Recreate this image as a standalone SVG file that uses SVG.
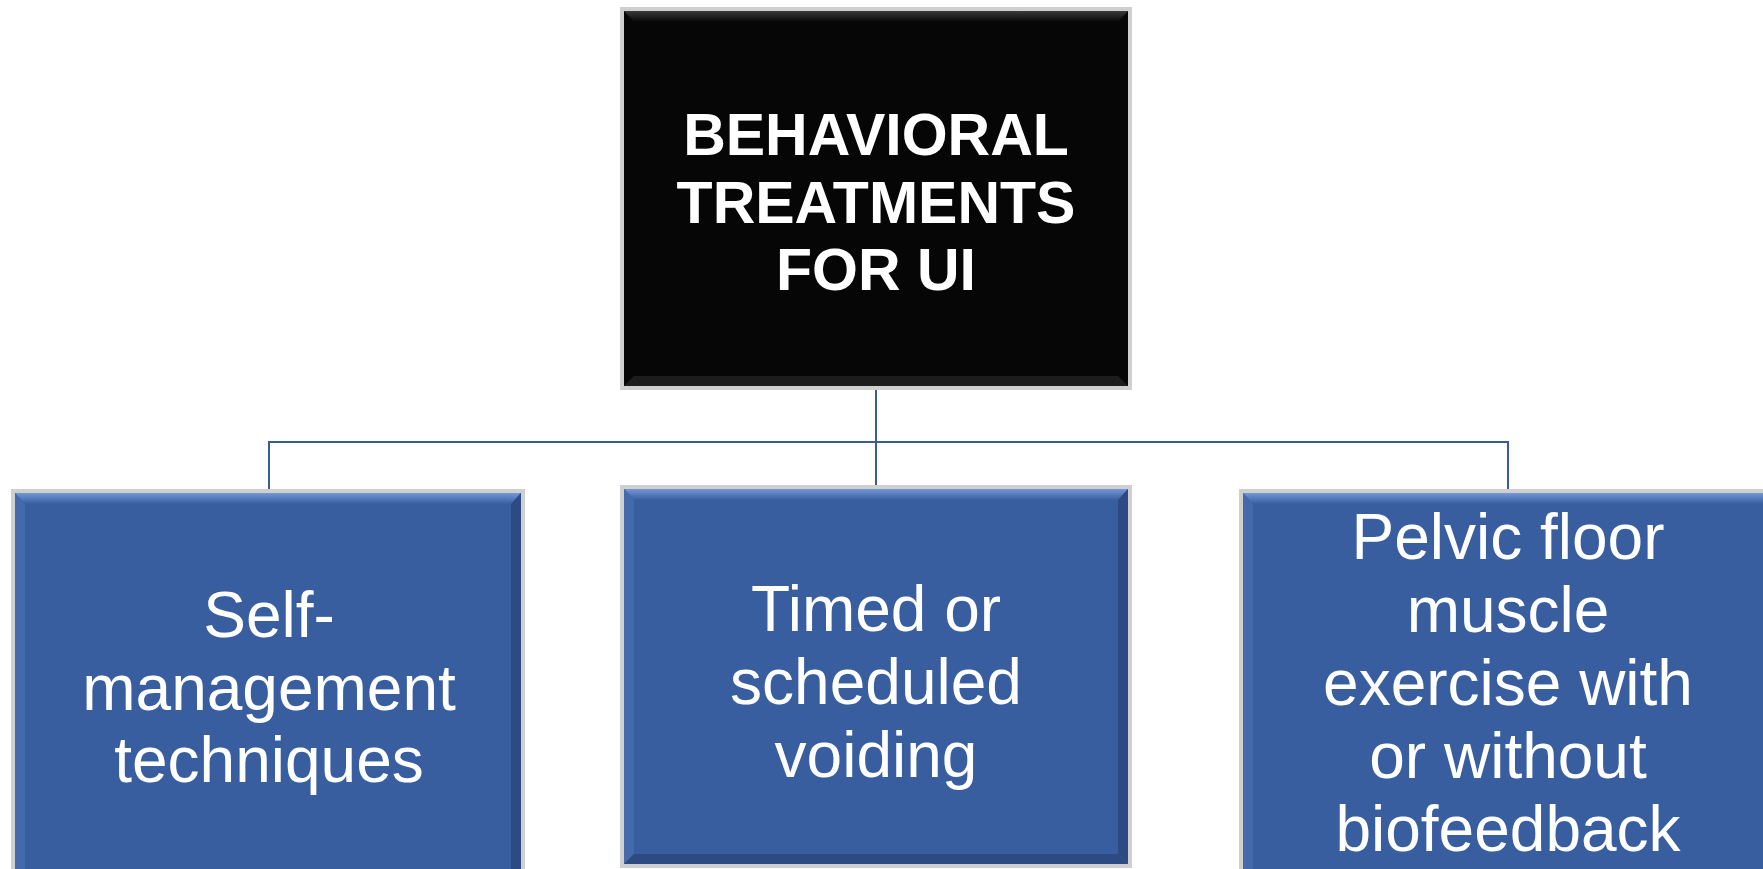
<svg xmlns="http://www.w3.org/2000/svg" width="1763" height="869" viewBox="0 0 1763 869">
<defs>
<linearGradient id="topBlue" x1="0" y1="0" x2="0" y2="1"><stop offset="0" stop-color="#7397D6"/><stop offset="1" stop-color="#3A5FA1"/></linearGradient>
<linearGradient id="topBlack" x1="0" y1="0" x2="0" y2="1"><stop offset="0" stop-color="#3a3a3a"/><stop offset="1" stop-color="#060606"/></linearGradient>
<style>
.frame{stroke:#cfcfcf;stroke-width:4}
.blue{fill:#385EA0}
.black{fill:#060606}
.rb{fill:#2D4B82}
.lb{fill:#4669AA}
.bb{fill:#1c1c1c}
.conn{fill:none;stroke:#3A5A9C;stroke-width:2}
.t1{font-family:"Liberation Sans",Arial,sans-serif;font-weight:bold;font-size:59px;fill:#fff;text-anchor:middle}
.t2{font-family:"Liberation Sans",Arial,sans-serif;font-size:64px;fill:#fff;text-anchor:middle}
</style>
</defs>
<rect width="1763" height="869" fill="#fff"/>
<g id="connectors">
<path class="conn" d="M876 388 V487"/>
<path class="conn" d="M269 491 V442 H1508 V491"/>
</g>
<g id="root">
<rect class="frame black" x="622" y="9" width="508" height="379"/>
<polygon fill="url(#topBlack)" points="624,11 1128,11 1118,22 634,22"/>
<polygon class="bb" points="624,386 1128,386 1118,376 634,376"/>
<text class="t1" x="876" y="155">BEHAVIORAL</text>
<text class="t1" x="876" y="223">TREATMENTS</text>
<text class="t1" x="876" y="290">FOR UI</text>
</g>
<g id="self-management">
<rect class="frame blue" x="13" y="491" width="510" height="390"/>
<polygon fill="url(#topBlue)" points="15,493 521,493 511,504 25,504"/>
<polygon class="rb" points="521,493 521,881 511,881 511,504"/>
<polygon class="lb" points="15,493 25,504 25,881 15,881"/>
<text class="t2" x="269" y="637">Self-</text>
<text class="t2" x="269" y="710">management</text>
<text class="t2" x="269" y="782">techniques</text>
</g>
<g id="timed-voiding">
<rect class="frame blue" x="622" y="487" width="508" height="379"/>
<polygon fill="url(#topBlue)" points="624,489 1128,489 1118,500 634,500"/>
<polygon class="rb" points="1128,489 1128,864 1118,854 1118,500"/>
<polygon class="lb" points="624,489 634,500 634,854 624,864"/>
<polygon class="rb" points="624,864 1128,864 1118,854 634,854"/>
<text class="t2" x="876" y="631">Timed or</text>
<text class="t2" x="876" y="704">scheduled</text>
<text class="t2" x="876" y="777">voiding</text>
</g>
<g id="pelvic-floor">
<rect class="frame blue" x="1241" y="491" width="540" height="390"/>
<polygon fill="url(#topBlue)" points="1243,493 1779,493 1769,504 1253,504"/>
<polygon class="lb" points="1243,493 1253,504 1253,881 1243,881"/>
<text class="t2" x="1508" y="559">Pelvic floor</text>
<text class="t2" x="1508" y="632">muscle</text>
<text class="t2" x="1508" y="705">exercise with</text>
<text class="t2" x="1508" y="778">or without</text>
<text class="t2" x="1508" y="851">biofeedback</text>
</g>
</svg>
